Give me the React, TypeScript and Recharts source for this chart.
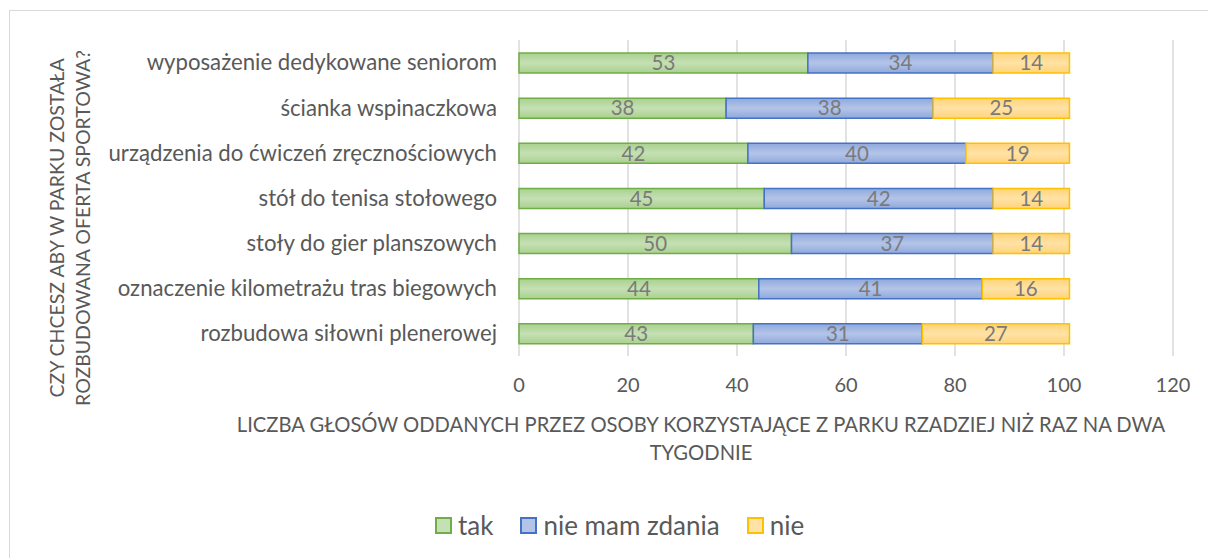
import React from 'react';
import {
  BarChart,
  Bar,
  XAxis,
  YAxis,
  CartesianGrid,
  LabelList,
} from 'recharts';

// kategorie (od góry do dołu)
const categories = [
  'wyposażenie dedykowane seniorom',
  'ścianka wspinaczkowa',
  'urządzenia do ćwiczeń zręcznościowych',
  'stół do tenisa stołowego',
  'stoły do gier planszowych',
  'oznaczenie kilometrażu tras biegowych',
  'rozbudowa siłowni plenerowej',
];

const takValues = [53, 38, 42, 45, 50, 44, 43];
const nieMamZdaniaValues = [34, 38, 40, 42, 37, 41, 31];
const nieValues = [14, 25, 19, 14, 14, 16, 27];

const xTicks = [0, 20, 40, 60, 80, 100, 120];

const xTitleLines = [
  'LICZBA GŁOSÓW ODDANYCH PRZEZ OSOBY KORZYSTAJĄCE Z PARKU RZADZIEJ NIŻ RAZ NA DWA',
  'TYGODNIE',
];
const yTitleLines = ['CZY CHCESZ ABY W PARKU ZOSTAŁA', 'ROZBUDOWANA OFERTA SPORTOWA?'];

const seriesInfo = [
  { key: 'tak', name: 'tak', stroke: '#70ad47', grad: 'gTak', c1: '#a9d18e', c2: '#c5e0b4' },
  { key: 'nieMam', name: 'nie mam zdania', stroke: '#4472c4', grad: 'gNieMam', c1: '#8fa9dc', c2: '#b4c4e8' },
  { key: 'nie', name: 'nie', stroke: '#ffc000', grad: 'gNie', c1: '#ffd47a', c2: '#ffe2a6' },
];

const rows = categories.map((c, i) => ({
  category: c,
  tak: takValues[i],
  nieMam: nieMamZdaniaValues[i],
  nie: nieValues[i],
}));

const FONT = 'Lato, "Open Sans", sans-serif';
const TEXT = '#595959';

const App: React.FC = () => {
  return (
    <div
      style={{
        position: 'fixed',
        left: 0,
        top: 0,
        width: 1208,
        height: 558,
        overflow: 'hidden',
        background: '#fff',
        fontFamily: FONT,
      }}
    >
      <div
        style={{
          position: 'absolute',
          left: 9,
          top: 10,
          width: 1220,
          height: 580,
          border: '1px solid #d9d9d9',
        }}
      />
      <BarChart
        layout="vertical"
        width={1208}
        height={558}
        data={rows}
        margin={{ top: 40, right: 35, bottom: 142, left: 0 }}
        style={{ position: 'absolute', left: 0, top: 0 }}
      >
        <defs>
          {seriesInfo.map(s => (
            <linearGradient key={s.grad} id={s.grad} x1="0" y1="0" x2="0" y2="1">
              <stop offset="0%" stopColor={s.c1} />
              <stop offset="50%" stopColor={s.c2} />
              <stop offset="100%" stopColor={s.c1} />
            </linearGradient>
          ))}
        </defs>
        <CartesianGrid horizontal={false} stroke="#d9d9d9" strokeWidth={1.5} />
        <XAxis
          type="number"
          domain={[0, 120]}
          ticks={xTicks}
          tickLine={false}
          axisLine={false}
          height={60}
          tickMargin={16}
          tick={{ fill: TEXT, fontSize: 20, fontFamily: FONT }}
        />
        <YAxis
          type="category"
          dataKey="category"
          width={519}
          tickLine={false}
          axisLine={false}
          tickMargin={16}
          interval={0}
          tick={{ fill: TEXT, fontSize: 22.2, fontFamily: FONT }}
        />
        {seriesInfo.map(s => (
          <Bar
            key={s.key}
            dataKey={s.key}
            name={s.name}
            stackId="a"
            barSize={20}
            fill={`url(#${s.grad})`}
            stroke={s.stroke}
            strokeWidth={1.5}
            isAnimationActive={false}
          >
            <LabelList
              dataKey={s.key}
              position="center"
              fill="#7a7a7a"
              fontSize={20.5}
              fontFamily={FONT}
            />
          </Bar>
        ))}
      </BarChart>

      {/* tytuł osi X */}
      <div
        style={{
          position: 'absolute',
          left: 150,
          width: 1102,
          top: 410,
          textAlign: 'center',
          color: TEXT,
          fontSize: 20.2,
          lineHeight: '28px',
          whiteSpace: 'nowrap',
        }}
      >
        {xTitleLines.map(l => (
          <div key={l}>{l}</div>
        ))}
      </div>

      {/* tytuł osi Y */}
      <div
        style={{
          position: 'absolute',
          left: 72 - 210,
          top: 228 - 28,
          width: 420,
          height: 56,
          transform: 'rotate(-90deg)',
          transformOrigin: '210px 28px',
          textAlign: 'center',
          color: TEXT,
          fontSize: 19.5,
          lineHeight: '26px',
        }}
      >
        {yTitleLines.map(l => (
          <div key={l} style={{ whiteSpace: 'nowrap' }}>{l}</div>
        ))}
      </div>

      {/* legenda */}
      <div
        style={{
          position: 'absolute',
          left: 435,
          top: 510,
          display: 'flex',
          color: TEXT,
          fontSize: 26,
          lineHeight: '30px',
        }}
      >
        {seriesInfo.map((s, i) => (
          <div
            key={s.key}
            style={{ display: 'flex', alignItems: 'center', marginLeft: i === 0 ? 0 : 27 }}
          >
            <span
              style={{
                display: 'inline-block',
                width: 13,
                height: 13,
                border: `2px solid ${s.stroke}`,
                background: s.c2,
                marginRight: 6,
              }}
            />
            <span>{s.name}</span>
          </div>
        ))}
      </div>
    </div>
  );
};

export default App;
